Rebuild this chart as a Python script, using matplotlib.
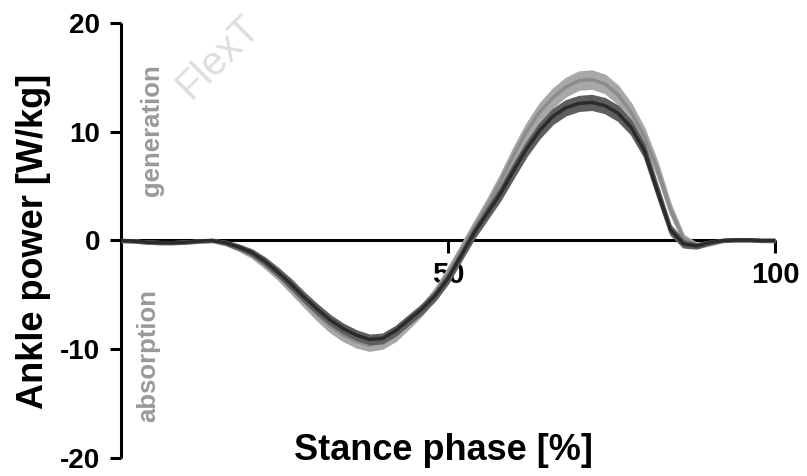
import matplotlib
matplotlib.use("Agg")
import matplotlib.pyplot as plt

plt.rcParams['font.family'] = ['Liberation Sans', 'DejaVu Sans']
plt.rcParams['axes.unicode_minus'] = False

# stance phase in %, every 2 %
stance = [0, 2, 4, 6, 8, 10, 12, 14, 16, 18,
          20, 22, 24, 26, 28, 30, 32, 34, 36, 38,
          40, 42, 44, 46, 48, 50, 52, 54, 56, 58,
          60, 62, 64, 66, 68, 70, 72, 74, 76, 78,
          80, 82, 84, 86, 88, 90, 92, 94, 96, 98, 100]

# light grey group (mean and SD)
light_mean = [0.0, -0.05, -0.15, -0.2, -0.2, -0.15, -0.05, 0.0, -0.25, -0.7,
              -1.3, -2.2, -3.2, -4.4, -5.6, -6.8, -7.9, -8.7, -9.3, -9.6,
              -9.4, -8.7, -7.6, -6.4, -4.9, -3.0, -0.9, 1.2, 3.2, 5.4,
              7.8, 10.0, 11.8, 13.1, 14.1, 14.7, 14.8, 14.4, 13.4, 11.8,
              9.6, 6.6, 2.9, 0.2, -0.45, -0.25, 0.0, 0.05, 0.05, 0.0, 0.0]
light_sd = [0.1, 0.1, 0.1, 0.1, 0.1, 0.1, 0.1, 0.1, 0.15, 0.2,
            0.25, 0.3, 0.35, 0.4, 0.45, 0.5, 0.5, 0.5, 0.5, 0.5,
            0.5, 0.5, 0.45, 0.45, 0.45, 0.45, 0.45, 0.5, 0.55, 0.6,
            0.65, 0.7, 0.75, 0.8, 0.8, 0.8, 0.8, 0.8, 0.8, 0.75,
            0.7, 0.6, 0.45, 0.3, 0.2, 0.15, 0.1, 0.1, 0.1, 0.1, 0.1]

# dark grey group (mean and SD)
dark_mean = [0.0, -0.05, -0.15, -0.2, -0.2, -0.15, -0.05, 0.0, -0.2, -0.6,
             -1.1, -1.9, -2.9, -4.0, -5.2, -6.3, -7.3, -8.1, -8.7, -9.1,
             -9.0, -8.3, -7.3, -6.3, -5.1, -3.5, -1.4, 0.7, 2.5, 4.3,
             6.4, 8.4, 10.1, 11.4, 12.2, 12.6, 12.7, 12.4, 11.7, 10.4,
             8.3, 4.6, 1.0, -0.3, -0.5, -0.2, 0.0, 0.05, 0.05, 0.0, 0.0]
dark_sd = [0.1, 0.1, 0.1, 0.1, 0.1, 0.1, 0.1, 0.1, 0.15, 0.2,
           0.25, 0.3, 0.35, 0.4, 0.4, 0.4, 0.4, 0.4, 0.4, 0.4,
           0.4, 0.4, 0.4, 0.4, 0.4, 0.4, 0.4, 0.45, 0.5, 0.55,
           0.6, 0.6, 0.65, 0.65, 0.65, 0.65, 0.65, 0.65, 0.65, 0.6,
           0.55, 0.5, 0.4, 0.3, 0.2, 0.15, 0.1, 0.1, 0.1, 0.1, 0.1]

fig = plt.figure(figsize=(8.07, 4.76), dpi=100)
ax = fig.add_axes([0.1499, 0.0378, 0.8104, 0.9139])

# faint watermark
fig.text(0.236, 0.79, "FlexT", rotation=45, rotation_mode='anchor',
         ha='left', va='baseline', fontsize=29, color='#dedede', zorder=0)

lo = [m - s for m, s in zip(light_mean, light_sd)]
hi = [m + s for m, s in zip(light_mean, light_sd)]
ax.fill_between(stance, lo, hi, color='#a8a8a8', lw=1.5, edgecolor='#a8a8a8', zorder=2)
ax.plot(stance, light_mean, color='#8c8c8c', lw=2.5, zorder=2.1)

lo = [m - s for m, s in zip(dark_mean, dark_sd)]
hi = [m + s for m, s in zip(dark_mean, dark_sd)]
ax.fill_between(stance, lo, hi, color='#5e5e5e', lw=1.5, edgecolor='#5e5e5e', zorder=2.2)
ax.plot(stance, dark_mean, color='#2b2b2b', lw=2.5, zorder=2.3)

ax.set_xlim(0, 100)
ax.set_ylim(-20, 20)
ax.spines['top'].set_visible(False)
ax.spines['right'].set_visible(False)
ax.spines['bottom'].set_position(('data', 0))
for s in ['left', 'bottom']:
    ax.spines[s].set_linewidth(2.2)
    ax.spines[s].set_zorder(1)
    ax.spines[s].set_capstyle('butt')

ax.set_xticks([50, 100])
ax.set_yticks([-20, -10, 0, 10, 20])
ax.tick_params(axis='x', direction='out', length=9, width=2.2, pad=6, labelsize=21)
ax.tick_params(axis='y', direction='out', length=8, width=2.2, pad=7, labelsize=20)
for lab in ax.get_xticklabels() + ax.get_yticklabels():
    lab.set_fontweight('bold')

fig.text(0.041, 0.4926, 'Ankle power [W/kg]', rotation=90, ha='center', va='center',
         fontsize=26, fontweight='bold')
fig.text(0.550, 0.0546, 'Stance phase [%]', ha='center', va='center',
         fontsize=26, fontweight='bold')

fig.text(0.1884, 0.727, 'generation', rotation=90, ha='center', va='center',
         fontsize=18.5, fontweight='bold', color='#999999')
fig.text(0.1834, 0.254, 'absorption', rotation=90, ha='center', va='center',
         fontsize=18.5, fontweight='bold', color='#999999')

fig.savefig('out.png', dpi=100)
